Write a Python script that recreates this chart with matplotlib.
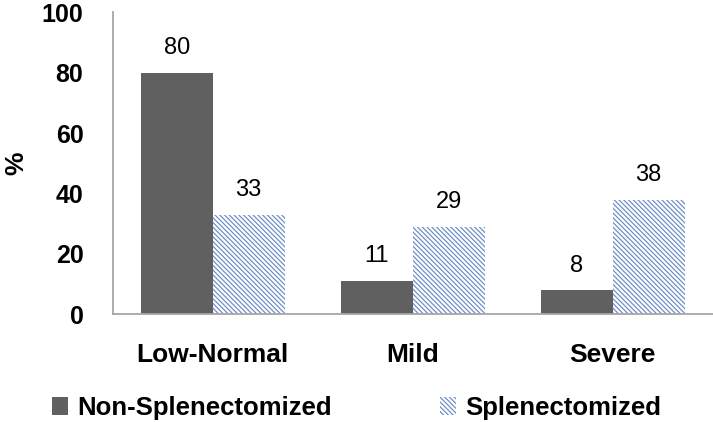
import numpy as np
import matplotlib.pyplot as plt

plt.rcParams['font.family'] = ['Liberation Sans', 'DejaVu Sans']
plt.rcParams['hatch.linewidth'] = 0.9
plt.rcParams['hatch.color'] = '#6f8fc8'

categories = ['Low-Normal', 'Mild', 'Severe']
non_splen = [80, 11, 8]
splen = [33, 29, 38]
series_names = ['Non-Splenectomized', 'Splenectomized']

fig = plt.figure(figsize=(7.13, 4.22), dpi=100)
ax = fig.add_axes([0.158, 0.2552, 0.8415, 0.7156])

x = np.arange(len(categories))
w = 0.36
b1 = ax.bar(x - w/2, non_splen, w, color='#606060', label=series_names[0])
b2 = ax.bar(x + w/2, splen, w, color='white', edgecolor='#6f8fc8', linewidth=0,
            hatch='\\\\\\\\\\\\\\', label=series_names[1])

for bars in (b1, b2):
  for r in bars:
    ax.text(r.get_x() + r.get_width()/2, r.get_height() + 4.5, '%d' % r.get_height(),
            ha='center', va='bottom', fontsize=17)

ax.set_xlim(-0.5, 2.5)
ax.set_ylim(0, 100)
ax.set_yticks(range(0, 101, 20))
ax.set_xticks(x)
ax.set_xticklabels(categories, fontsize=19, fontweight='bold')
ax.tick_params(axis='y', labelsize=18, length=0, pad=21)
ax.tick_params(axis='x', length=0, pad=21)
for lbl in ax.get_yticklabels():
  lbl.set_fontweight('bold')
ax.set_ylabel('%', fontsize=19, fontweight='bold', va='center')
ax.yaxis.set_label_coords(-0.16, 0.5)

for s in ('top', 'right'):
  ax.spines[s].set_visible(False)
for s in ('left', 'bottom'):
  ax.spines[s].set_color('#a6a6a6')
  ax.spines[s].set_linewidth(1.3)

fig.legend(handles=[b1, b2], loc='center', bbox_to_anchor=(0.5, 0.033), ncol=2,
           frameon=False, prop={'size': 18.5, 'weight': 'bold'}, handlelength=0.65,
           handleheight=0.65, handletextpad=0.35, columnspacing=4.2,
           borderpad=0)

fig.savefig('out.png')
